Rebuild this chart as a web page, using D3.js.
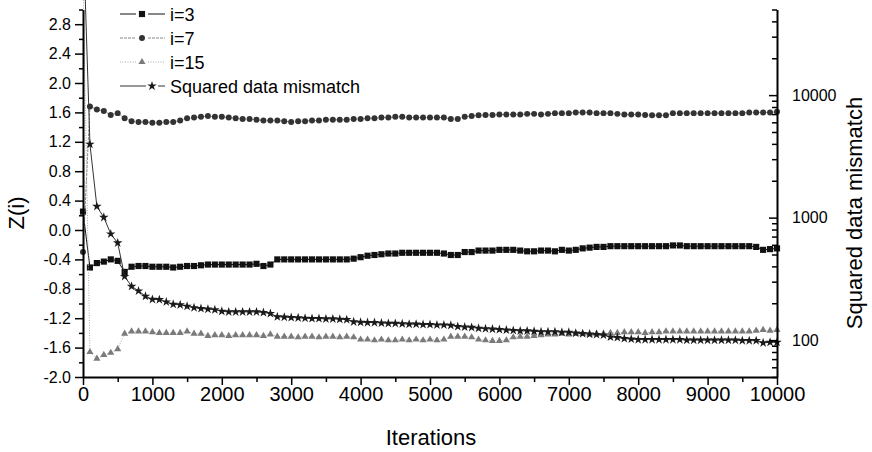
<!DOCTYPE html>
<html>
<head>
<meta charset="utf-8">
<script src="https://cdn.jsdelivr.net/npm/d3@7"></script>
<style>
  body { margin: 0; background: #fff; }
  text { font-family: "Liberation Sans", Arial, sans-serif; fill: #000; }
</style>
</head>
<body>
<div id="chart"></div>
<script>
// iterations (x values)
var iterations = [
  0,100,200,300,400,500,600,700,800,900,
  1000,1100,1200,1300,1400,1500,1600,1700,1800,1900,
  2000,2100,2200,2300,2400,2500,2600,2700,2800,2900,
  3000,3100,3200,3300,3400,3500,3600,3700,3800,3900,
  4000,4100,4200,4300,4400,4500,4600,4700,4800,4900,
  5000,5100,5200,5300,5400,5500,5600,5700,5800,5900,
  6000,6100,6200,6300,6400,6500,6600,6700,6800,6900,
  7000,7100,7200,7300,7400,7500,7600,7700,7800,7900,
  8000,8100,8200,8300,8400,8500,8600,8700,8800,8900,
  9000,9100,9200,9300,9400,9500,9600,9700,9800,9900,
  10000];

// Z(i) for i=3
var z3 = [
  0.25,-0.51,-0.45,-0.43,-0.40,-0.42,-0.57,-0.50,-0.49,-0.49,
  -0.50,-0.50,-0.50,-0.51,-0.50,-0.49,-0.49,-0.48,-0.47,-0.47,
  -0.47,-0.47,-0.47,-0.47,-0.47,-0.46,-0.49,-0.47,-0.40,-0.40,
  -0.40,-0.40,-0.40,-0.40,-0.40,-0.40,-0.40,-0.40,-0.40,-0.39,
  -0.37,-0.35,-0.34,-0.33,-0.32,-0.32,-0.31,-0.31,-0.31,-0.31,
  -0.31,-0.31,-0.32,-0.34,-0.34,-0.30,-0.30,-0.28,-0.28,-0.28,
  -0.27,-0.27,-0.27,-0.28,-0.29,-0.29,-0.28,-0.28,-0.29,-0.27,
  -0.28,-0.27,-0.25,-0.24,-0.23,-0.23,-0.22,-0.22,-0.22,-0.22,
  -0.22,-0.22,-0.22,-0.22,-0.22,-0.21,-0.21,-0.22,-0.22,-0.22,
  -0.22,-0.22,-0.22,-0.22,-0.22,-0.22,-0.22,-0.23,-0.27,-0.26,
  -0.25];

// Z(i) for i=7
var z7 = [
  -0.30,1.68,1.64,1.62,1.565,1.59,1.52,1.48,1.47,1.47,
  1.46,1.46,1.47,1.47,1.49,1.52,1.53,1.54,1.55,1.54,
  1.54,1.53,1.52,1.51,1.51,1.50,1.49,1.49,1.49,1.48,
  1.47,1.48,1.48,1.49,1.49,1.50,1.50,1.50,1.50,1.51,
  1.51,1.52,1.52,1.53,1.53,1.54,1.54,1.53,1.53,1.53,
  1.53,1.53,1.53,1.51,1.51,1.54,1.55,1.56,1.565,1.565,
  1.57,1.57,1.57,1.57,1.58,1.58,1.57,1.58,1.59,1.59,
  1.59,1.60,1.60,1.60,1.59,1.59,1.59,1.58,1.57,1.57,
  1.57,1.565,1.56,1.56,1.56,1.59,1.59,1.59,1.59,1.59,
  1.59,1.59,1.59,1.59,1.59,1.59,1.60,1.60,1.60,1.60,
  1.61];

// Z(i) for i=15
var z15 = [
  3.40,-1.66,-1.75,-1.70,-1.67,-1.62,-1.41,-1.38,-1.38,-1.38,
  -1.39,-1.40,-1.40,-1.40,-1.40,-1.38,-1.41,-1.41,-1.44,-1.43,
  -1.43,-1.44,-1.43,-1.43,-1.43,-1.43,-1.44,-1.42,-1.45,-1.45,
  -1.45,-1.46,-1.45,-1.45,-1.46,-1.45,-1.45,-1.46,-1.45,-1.46,
  -1.49,-1.49,-1.50,-1.49,-1.50,-1.50,-1.49,-1.50,-1.49,-1.50,
  -1.49,-1.50,-1.49,-1.45,-1.45,-1.45,-1.46,-1.49,-1.50,-1.51,
  -1.51,-1.50,-1.46,-1.45,-1.45,-1.44,-1.43,-1.42,-1.42,-1.41,
  -1.42,-1.41,-1.41,-1.42,-1.41,-1.41,-1.40,-1.40,-1.39,-1.39,
  -1.39,-1.40,-1.39,-1.39,-1.38,-1.38,-1.38,-1.38,-1.38,-1.38,
  -1.38,-1.38,-1.38,-1.38,-1.38,-1.38,-1.38,-1.37,-1.36,-1.37,
  -1.36];

// squared data mismatch (right, log axis)
var mismatch = [
  230000,3970,1235,1005,736,622,331,275,252,228,
  215,214,205,196,194,189,184,181,179,177,
  172,170,170,170,170,170,168,165,155,154,
  153,152,151,150,150,149,149,148,147,141,
  140,139,139,138,137,137,136,135,135,134,
  134,133,133,132,129,128,127,125,124,123,
  122,121,120,119,119,118,117,117,117,116,
  116,114,113,112,111,110,106,105,103,102,
  101,101,101,101,101,101,101,100,100,100,
  100,100,100,100,100,99,99,99,95,96,
  96];

// tick values
var xMajor = [0,1000,2000,3000,4000,5000,6000,7000,8000,9000,10000];
var xMinor = [500,1500,2500,3500,4500,5500,6500,7500,8500,9500];
var zMajor = [-2.0,-1.6,-1.2,-0.8,-0.4,0.0,0.4,0.8,1.2,1.6,2.0,2.4,2.8];
var zMinor = [-1.8,-1.4,-1.0,-0.6,-0.2,0.2,0.6,1.0,1.4,1.8,2.2,2.6,3.0];
var rMajor = [100,1000,10000];
var rMinor = [50,60,70,80,90,200,300,400,500,600,700,800,900,
  2000,3000,4000,5000,6000,7000,8000,9000,20000,30000,40000,50000];

var seriesNames = ["i=3","i=7","i=15","Squared data mismatch"];

var width = 872, height = 452;
var plotLeft = 83, plotRight = 777, plotTop = 9.5, plotBottom = 377;

var svg = d3.select("#chart")
  .append("svg")
    .attr("width", width)
    .attr("height", height);

// scales
var x = d3.scaleLinear().domain([0, 10000]).range([plotLeft, plotRight]);
var y = d3.scaleLinear().domain([-2, 3]).range([plotBottom, plotTop]);
var yR = d3.scaleLog().domain([50, 50000]).range([plotBottom, plotTop]);

// series setup
var series = [
  {name: seriesNames[0], values: z3, scale: y, symbol: d3.symbolSquare, size: 38,
   fill: "#111", stroke: "#111", dash: null},
  {name: seriesNames[1], values: z7, scale: y, symbol: d3.symbolCircle, size: 28,
   fill: "#333", stroke: "#888", dash: "3,1"},
  {name: seriesNames[2], values: z15, scale: y, symbol: d3.symbolTriangle, size: 22,
   fill: "#7a7a7a", stroke: "#aaa", dash: "1,1.5"},
  {name: seriesNames[3], values: mismatch, scale: yR, symbol: d3.symbolStar, size: 28,
   fill: "#1a1a1a", stroke: "#333", dash: null}
];

// lines and markers
series.forEach(function(s) {
  var pts = iterations.map(function(it, i) { return [it, s.values[i]]; });
  var line = d3.line()
    .x(function(d) { return x(d[0]); })
    .y(function(d) { return s.scale(d[1]); });
  svg.append("path")
    .datum(pts)
    .attr("d", line)
    .attr("fill", "none")
    .attr("stroke", s.stroke)
    .attr("stroke-width", 1)
    .attr("stroke-dasharray", s.dash);
  svg.append("g")
    .selectAll("path")
    .data(pts)
    .enter()
    .append("path")
      .attr("d", d3.symbol().type(s.symbol).size(s.size))
      .attr("transform", function(d) { return "translate(" + x(d[0]) + "," + s.scale(d[1]) + ")"; })
      .attr("fill", s.fill);
});

// axes
function styleAxis(g, fontSize) {
  g.selectAll(".domain").attr("stroke", "#000").attr("stroke-width", 2);
  g.selectAll(".tick line").attr("stroke", "#000").attr("stroke-width", 1.5);
  g.selectAll("text").attr("font-size", fontSize)
    .attr("font-family", "'Liberation Sans', Arial, sans-serif").attr("fill", "#000");
}

// X axis
var gx = svg.append("g")
  .attr("transform", "translate(0," + plotBottom + ")")
  .call(d3.axisBottom(x).tickValues(xMajor).tickSizeInner(8).tickSizeOuter(0)
    .tickPadding(2).tickFormat(d3.format("d")));
styleAxis(gx, 20);
var gxm = svg.append("g")
  .attr("transform", "translate(0," + plotBottom + ")")
  .call(d3.axisBottom(x).tickValues(xMinor).tickSize(5).tickFormat(""));
styleAxis(gxm, 10);
gxm.select(".domain").remove();

// left Y axis
var gy = svg.append("g")
  .attr("transform", "translate(" + plotLeft + ",0)")
  .call(d3.axisLeft(y).tickValues(zMajor).tickSizeInner(8).tickSizeOuter(0)
    .tickPadding(4).tickFormat(function(d) { return d.toFixed(1); }));
styleAxis(gy, 16);
var gym = svg.append("g")
  .attr("transform", "translate(" + plotLeft + ",0)")
  .call(d3.axisLeft(y).tickValues(zMinor).tickSize(4).tickFormat(""));
styleAxis(gym, 10);
gym.select(".domain").remove();

// right log axis, ticks pointing inward
var gr = svg.append("g")
  .attr("transform", "translate(" + plotRight + ",0)")
  .call(d3.axisRight(yR).tickValues(rMajor).tickSizeInner(-8).tickSizeOuter(0)
    .tickPadding(15).tickFormat(d3.format("d")));
styleAxis(gr, 16);
var grm = svg.append("g")
  .attr("transform", "translate(" + plotRight + ",0)")
  .call(d3.axisRight(yR).tickValues(rMinor).tickSizeInner(-5).tickSizeOuter(0).tickFormat(""));
styleAxis(grm, 10);
grm.select(".domain").remove();

// axis titles
svg.append("text")
  .attr("x", 431).attr("y", 445)
  .attr("text-anchor", "middle")
  .attr("font-size", 22)
  .text("Iterations");

svg.append("text")
  .attr("transform", "translate(24,213) rotate(-90)")
  .attr("text-anchor", "middle")
  .attr("font-size", 22)
  .text("Z(i)");

svg.append("text")
  .attr("transform", "translate(862,213) rotate(-90)")
  .attr("text-anchor", "middle")
  .attr("font-size", 22)
  .text("Squared data mismatch");

// legend
var legendY = [14, 38, 62, 86];
series.forEach(function(s, i) {
  var g = svg.append("g").attr("transform", "translate(0," + legendY[i] + ")");
  var mx = i < 3 ? 142 : 152;
  g.append("line").attr("x1", 120).attr("x2", mx - 6).attr("y1", 0).attr("y2", 0)
    .attr("stroke", s.stroke).attr("stroke-width", 1).attr("stroke-dasharray", s.dash);
  g.append("line").attr("x1", mx + 6).attr("x2", 165).attr("y1", 0).attr("y2", 0)
    .attr("stroke", s.stroke).attr("stroke-width", 1).attr("stroke-dasharray", s.dash);
  g.append("path")
    .attr("d", d3.symbol().type(s.symbol).size(s.size))
    .attr("transform", "translate(" + mx + ",0)")
    .attr("fill", s.fill);
  g.append("text")
    .attr("x", 170).attr("y", 6.5)
    .attr("font-size", 18)
    .text(s.name);
});
</script>
</body>
</html>
